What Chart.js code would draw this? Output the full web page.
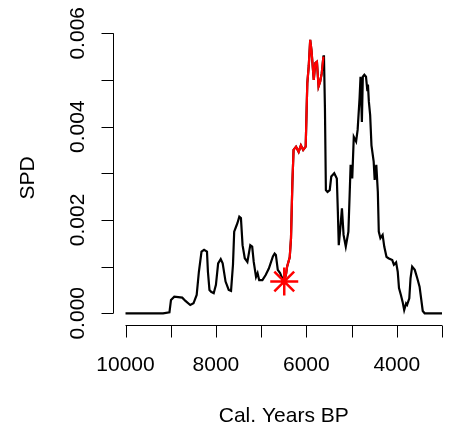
<!DOCTYPE html>
<html><head><meta charset="utf-8">
<script src="https://cdn.jsdelivr.net/npm/chart.js@4"></script>
<style>html,body{margin:0;padding:0;background:#fff}#wrap{width:471px;height:429px}</style>
</head><body><div id="wrap"><canvas id="c" width="471" height="429"></canvas></div>
<script>
// ---- data ----
const years = [10000, 9170, 9028, 8994, 8921, 8745, 8674, 8568, 8496, 8426, 8377, 8319, 8262, 8198, 8177, 8143, 8106, 8049, 8000, 7951, 7894, 7851, 7787, 7717, 7666, 7623, 7596, 7553, 7525, 7483, 7447, 7411, 7362, 7304, 7240, 7198, 7164, 7113, 7079, 7043, 6972, 6900, 6830, 6740, 6702, 6674, 6632, 6581, 6547, 6489, 6447, 6426, 6368, 6340, 6309, 6283, 6228, 6170, 6121, 6070, 6015, 5994, 5979, 5947, 5915, 5887, 5836, 5802, 5766, 5730, 5695, 5660, 5623, 5611, 5589, 5568, 5532, 5483, 5449, 5383, 5326, 5304, 5283, 5249, 5213, 5177, 5128, 5070, 5043, 5021, 4985, 4951, 4900, 4866, 4823, 4802, 4772, 4751, 4717, 4681, 4652, 4638, 4617, 4589, 4560, 4511, 4489, 4453, 4419, 4398, 4362, 4313, 4277, 4228, 4185, 4100, 4064, 4015, 3979, 3951, 3909, 3872, 3836, 3794, 3772, 3723, 3696, 3660, 3602, 3547, 3496, 3462, 3426, 3383, 3000];
const spd = [0, 0, 0.00002, 0.000285, 0.000356, 0.000335, 0.000264, 0.000178, 0.000214, 0.000392, 0.00089, 0.00132, 0.00136, 0.00132, 0.00089, 0.0005, 0.00046, 0.00043, 0.00061, 0.00107, 0.00116, 0.00107, 0.00068, 0.0005, 0.00048, 0.00104, 0.00175, 0.00186, 0.00193, 0.00207, 0.00204, 0.00146, 0.00118, 0.0011, 0.00146, 0.00143, 0.0011, 0.00078, 0.00086, 0.00071, 0.00071, 0.00082, 0.00096, 0.00122, 0.00128, 0.00125, 0.00093, 0.00086, 0.00078, 0.00068, 0.00085, 0.001, 0.0012, 0.0016, 0.0028, 0.0035, 0.00357, 0.00346, 0.0036, 0.0035, 0.00357, 0.00436, 0.00493, 0.0053, 0.00586, 0.00564, 0.005, 0.00536, 0.00539, 0.00486, 0.00496, 0.00514, 0.0055, 0.00553, 0.0044, 0.00264, 0.0026, 0.00264, 0.00293, 0.003, 0.00289, 0.0022, 0.00146, 0.00182, 0.00225, 0.00168, 0.00143, 0.00175, 0.00253, 0.00318, 0.00289, 0.00378, 0.00368, 0.00393, 0.00461, 0.00507, 0.0041, 0.00507, 0.00511, 0.00507, 0.00478, 0.0049, 0.00453, 0.00425, 0.0036, 0.00325, 0.00286, 0.00318, 0.0026, 0.00175, 0.00161, 0.00168, 0.00143, 0.00121, 0.00118, 0.00114, 0.00104, 0.00109, 0.00089, 0.00054, 0.00039, 0.00025, 0.00007, 0.00021, 0.00018, 0.00032, 0.00075, 0.001, 0.00093, 0.00075, 0.00057, 0.00032, 0.00005, 0, 0];
const redStartYear = 6489;
const redEndYear = 5623;
const markerYears = [6489];
const markerSpd = [0.00068];
const xTicks = [10000, 9000, 8000, 7000, 6000, 5000, 4000, 3000];
const xTickLabels = ['10000', '', '8000', '', '6000', '', '4000', ''];
const yTicks = [0, 0.001, 0.002, 0.003, 0.004, 0.005, 0.006];
const yTickLabels = ['0.000', '', '0.002', '', '0.004', '', '0.006'];
const xTitle = 'Cal. Years BP';
const yTitle = 'SPD';

// ---- build datasets ----
const blackPts = years.map((x, i) => ({x: x, y: spd[i]}));
const redPts = years.map((x, i) => ({x: x, y: spd[i]})).filter(p => p.x <= redStartYear && p.x >= redEndYear);
const markerPts = markerYears.map((x, i) => ({x: x, y: markerSpd[i]}));

const FONT = '21px "Liberation Sans", Arial, Helvetica, sans-serif';

const rAxes = {
  id: 'rAxes',
  afterDraw(chart) {
    const ctx = chart.ctx, xs = chart.scales.x, ys = chart.scales.y, a = chart.chartArea;
    ctx.save();
    ctx.strokeStyle = '#000'; ctx.lineWidth = 1; ctx.fillStyle = '#000';
    ctx.font = FONT;
    // x axis
    const xb = Math.round(a.bottom) + 0.5;
    ctx.beginPath();
    ctx.moveTo(xs.getPixelForValue(xTicks[0]), xb);
    ctx.lineTo(xs.getPixelForValue(xTicks[xTicks.length - 1]), xb);
    xTicks.forEach(v => { const p = Math.round(xs.getPixelForValue(v)) + 0.5; ctx.moveTo(p, xb); ctx.lineTo(p, xb + 12); });
    ctx.stroke();
    ctx.textAlign = 'center'; ctx.textBaseline = 'alphabetic';
    xTicks.forEach((v, i) => { if (xTickLabels[i]) ctx.fillText(xTickLabels[i], xs.getPixelForValue(v), 371); });
    ctx.fillText(xTitle, (a.left + a.right) / 2, 421.5);
    // y axis
    const yl = Math.round(a.left) + 0.5;
    ctx.beginPath();
    ctx.moveTo(yl, ys.getPixelForValue(yTicks[0]));
    ctx.lineTo(yl, ys.getPixelForValue(yTicks[yTicks.length - 1]));
    yTicks.forEach(v => { const p = Math.round(ys.getPixelForValue(v)) + 0.5; ctx.moveTo(yl, p); ctx.lineTo(yl - 12, p); });
    ctx.stroke();
    yTicks.forEach((v, i) => {
      if (!yTickLabels[i]) return;
      ctx.save(); ctx.translate(83.5, ys.getPixelForValue(v)); ctx.rotate(-Math.PI / 2);
      ctx.fillText(yTickLabels[i], 0, 0); ctx.restore();
    });
    ctx.save(); ctx.translate(33.5, (a.top + a.bottom) / 2); ctx.rotate(-Math.PI / 2);
    ctx.fillText(yTitle, 0, 0); ctx.restore();
    ctx.restore();
  }
};

const bg = {
  id: 'bg',
  beforeDraw(chart) { const c = chart.ctx; c.save(); c.fillStyle = '#fff'; c.fillRect(0, 0, chart.width, chart.height); c.restore(); }
};

new Chart(document.getElementById('c'), {
  type: 'line',
  data: {
    datasets: [
      {data: blackPts, borderColor: '#000', borderWidth: 2.2, pointRadius: 0, tension: 0, fill: false, order: 3},
      {data: redPts, borderColor: '#ff0000', borderWidth: 2.2, pointRadius: 0, tension: 0, fill: false, order: 2},
      {data: markerPts, showLine: false, pointStyle: 'star', pointRadius: 14, pointBorderColor: '#ff0000', pointBorderWidth: 2.5, pointBackgroundColor: '#ff0000', borderColor: '#ff0000', order: 1}
    ]
  },
  options: {
    responsive: false, animation: false, devicePixelRatio: 1,
    layout: {padding: {left: 113, right: 3, top: 31, bottom: 104}},
    plugins: {legend: {display: false}, tooltip: {enabled: false}},
    scales: {
      x: {type: 'linear', reverse: true, min: 2723.4, max: 10276.6, display: false},
      y: {type: 'linear', min: -0.000251, max: 0.006049, display: false}
    }
  },
  plugins: [bg, rAxes]
});
</script>
</body></html>
